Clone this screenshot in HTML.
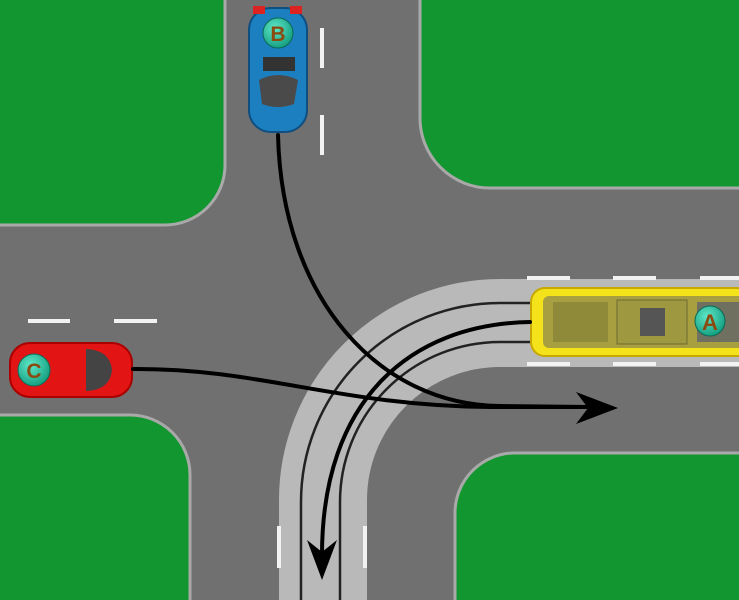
<!DOCTYPE html>
<html><head><meta charset="utf-8"><style>
html,body{margin:0;padding:0;width:739px;height:600px;overflow:hidden;background:#6f6f6f}
</style></head><body>
<svg width="739" height="600" viewBox="0 0 739 600" xmlns="http://www.w3.org/2000/svg">
<defs>
<radialGradient id="bd" cx="0.4" cy="0.35" r="0.7"><stop offset="0" stop-color="#5fe8c8"/><stop offset="1" stop-color="#119a7c"/></radialGradient>
</defs>
<rect width="739" height="600" fill="#707070"/>
<!-- grass blocks -->
<g fill="#12962f" stroke="#a9a9a9" stroke-width="3">
<path d="M-5 -5 H225 V165 A60 60 0 0 1 165 225 H-5 Z"/>
<path d="M744 -5 H420 V118 A70 70 0 0 0 490 188 H744 Z"/>
<path d="M-5 605 H190 V475 A60 60 0 0 0 130 415 H-5 Z"/>
<path d="M744 605 H455 V513 A60 60 0 0 1 515 453 H744 Z"/>
</g>
<!-- tram band -->
<path d="M739 323 H500 A177 177 0 0 0 323 500 V600" fill="none" stroke="#b9b9b9" stroke-width="88"/>
<path d="M739 303 H500 A199 199 0 0 0 301 502 V600" fill="none" stroke="#222" stroke-width="2.5"/>
<path d="M739 342 H500 A160 160 0 0 0 340 502 V600" fill="none" stroke="#222" stroke-width="2.5"/>
<!-- dashes -->
<g stroke="#f2f2f2" stroke-width="4">
<line x1="28" y1="321" x2="70" y2="321"/><line x1="114" y1="321" x2="157" y2="321"/>
<line x1="322" y1="28" x2="322" y2="68"/><line x1="322" y1="115" x2="322" y2="155"/>
<line x1="527" y1="278" x2="570" y2="278"/><line x1="613" y1="278" x2="656" y2="278"/><line x1="700" y1="278" x2="739" y2="278"/>
<line x1="527" y1="364" x2="570" y2="364"/><line x1="613" y1="364" x2="656" y2="364"/><line x1="700" y1="364" x2="739" y2="364"/>
<line x1="279" y1="526" x2="279" y2="568"/><line x1="365" y1="526" x2="365" y2="568"/>
</g>
<!-- tram -->
<rect x="531" y="288" width="220" height="68" rx="14" fill="#f4e21a" stroke="#c7a800" stroke-width="2"/>
<rect x="543" y="296" width="210" height="52" rx="6" fill="#a8a040"/>
<rect x="553" y="302" width="55" height="40" fill="#8f8a3a"/>
<rect x="617" y="300" width="70" height="44" fill="#9e9840" stroke="#6b6a30"/>
<rect x="640" y="308" width="25" height="28" fill="#555"/>
<rect x="697" y="302" width="50" height="40" fill="#707060"/>
<circle cx="710" cy="321" r="15" fill="url(#bd)" stroke="#0b6a55"/>
<text x="710" y="330" text-anchor="middle" font-family="Liberation Sans,sans-serif" font-weight="bold" font-size="22" fill="#8a4a10">A</text>
<!-- car B -->
<rect x="249" y="8" width="58" height="124" rx="22" fill="#1c7fc0" stroke="#0e4f80" stroke-width="2"/>
<rect x="253" y="6" width="12" height="8" fill="#d22"/><rect x="290" y="6" width="12" height="8" fill="#d22"/>
<rect x="263" y="57" width="32" height="14" fill="#333"/>
<path d="M259 80 Q278 70 298 80 L294 104 Q278 110 262 104 Z" fill="#4a4a4a"/>
<circle cx="278" cy="33" r="15" fill="url(#bd)" stroke="#0b6a55"/>
<text x="278" y="41" text-anchor="middle" font-family="Liberation Sans,sans-serif" font-weight="bold" font-size="21" fill="#8a4a10">B</text>
<!-- car C -->
<rect x="10" y="343" width="122" height="54" rx="20" fill="#e21414" stroke="#a00" stroke-width="2"/>
<path d="M86 349 Q110 350 112 370 Q110 390 86 391 Z" fill="#444"/>
<circle cx="34" cy="370" r="16" fill="url(#bd)" stroke="#0b6a55"/>
<text x="34" y="378" text-anchor="middle" font-family="Liberation Sans,sans-serif" font-weight="bold" font-size="21" fill="#8a4a10">C</text>
<!-- arrows -->
<g fill="none" stroke="#000" stroke-width="4" stroke-linecap="round">
<path d="M278 135 C282 300 380 405 500 406 L590 407"/>
<path d="M133 369 C260 368 340 406 490 407 L590 407"/>
<path d="M530 322 C410 324 322 400 322 555"/>
</g>
<path d="M618 408 L576 392 L588 408 L576 424 Z" fill="#000"/>
<path d="M322 580 L307 540 L322 552 L337 540 Z" fill="#000"/>
</svg>
</body></html>
